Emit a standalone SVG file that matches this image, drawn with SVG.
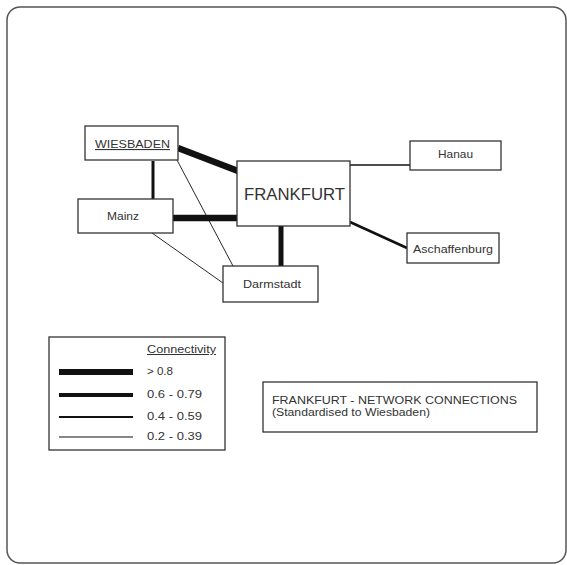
<svg xmlns="http://www.w3.org/2000/svg" width="567" height="565" viewBox="0 0 567 565">
<style>
.box{fill:#fff;stroke:#333;stroke-width:1.3}
.t{font-family:"Liberation Sans",Arial,sans-serif;fill:#333}
.c{text-anchor:middle}
.e{stroke:#111;fill:none}
</style>
<rect x="0" y="0" width="567" height="565" fill="#fff"/>
<rect x="7" y="7" width="559" height="556" rx="13" fill="#fff" stroke="#555" stroke-width="1.5"/>
<g id="connectors">
<line class="e" x1="178" y1="148" x2="238" y2="171" stroke-width="6.5"/>
<line class="e" x1="153" y1="161" x2="153" y2="199" stroke-width="3"/>
<line class="e" x1="173" y1="218" x2="238" y2="218" stroke-width="6.5"/>
<line class="e" x1="281" y1="226" x2="281" y2="266" stroke-width="5"/>
<line class="e" x1="177" y1="160" x2="233" y2="266" stroke-width="0.9"/>
<line class="e" x1="152" y1="233" x2="223" y2="283" stroke-width="0.9"/>
<line class="e" x1="350" y1="165" x2="410" y2="165" stroke-width="1.3"/>
<line class="e" x1="350" y1="222" x2="407" y2="248" stroke-width="2.5"/>
</g>
<g id="wiesbaden"><rect class="box" x="85" y="126" width="93" height="34"/><text class="t" x="95" y="148" font-size="11" textLength="75" lengthAdjust="spacingAndGlyphs" text-decoration="underline">WIESBADEN</text></g>
<g id="mainz"><rect class="box" x="78" y="199" width="95" height="34"/><text class="t" x="107" y="220" font-size="11" textLength="32" lengthAdjust="spacingAndGlyphs">Mainz</text></g>
<g id="frankfurt"><rect class="box" x="237" y="161" width="113" height="65"/><text class="t" x="244" y="200" font-size="17" textLength="101" lengthAdjust="spacingAndGlyphs">FRANKFURT</text></g>
<g id="darmstadt"><rect class="box" x="223" y="266" width="95" height="36"/><text class="t" x="243" y="288" font-size="11" textLength="58" lengthAdjust="spacingAndGlyphs">Darmstadt</text></g>
<g id="hanau"><rect class="box" x="410" y="141" width="91" height="29"/><text class="t" x="438" y="158" font-size="11" textLength="35" lengthAdjust="spacingAndGlyphs">Hanau</text></g>
<g id="aschaffenburg"><rect class="box" x="407" y="233" width="92" height="30"/><text class="t" x="413" y="253" font-size="11" textLength="80" lengthAdjust="spacingAndGlyphs">Aschaffenburg</text></g>
<g id="legend">
<rect class="box" x="49" y="337" width="176" height="113"/>
<text class="t" x="147" y="353" font-size="10" textLength="69" lengthAdjust="spacingAndGlyphs" text-decoration="underline">Connectivity</text>
<line class="e" x1="59" y1="372" x2="133" y2="372" stroke-width="6"/>
<line class="e" x1="59" y1="395" x2="133" y2="395" stroke-width="4"/>
<line class="e" x1="59" y1="417" x2="133" y2="417" stroke-width="2"/>
<line class="e" x1="59" y1="437" x2="133" y2="437" stroke-width="1"/>
<text class="t" x="147" y="375" font-size="10" textLength="26" lengthAdjust="spacingAndGlyphs">&gt; 0.8</text>
<text class="t" x="147" y="398" font-size="10" textLength="55" lengthAdjust="spacingAndGlyphs">0.6 - 0.79</text>
<text class="t" x="147" y="420" font-size="10" textLength="55" lengthAdjust="spacingAndGlyphs">0.4 - 0.59</text>
<text class="t" x="147" y="440" font-size="10" textLength="55" lengthAdjust="spacingAndGlyphs">0.2 - 0.39</text>
</g>
<g id="title">
<rect class="box" x="263" y="382" width="274" height="50"/>
<text class="t" x="272" y="404" font-size="10" textLength="245" lengthAdjust="spacingAndGlyphs">FRANKFURT - NETWORK CONNECTIONS</text>
<text class="t" x="272" y="416" font-size="10" textLength="158" lengthAdjust="spacingAndGlyphs">(Standardised to Wiesbaden)</text>
</g>
</svg>
